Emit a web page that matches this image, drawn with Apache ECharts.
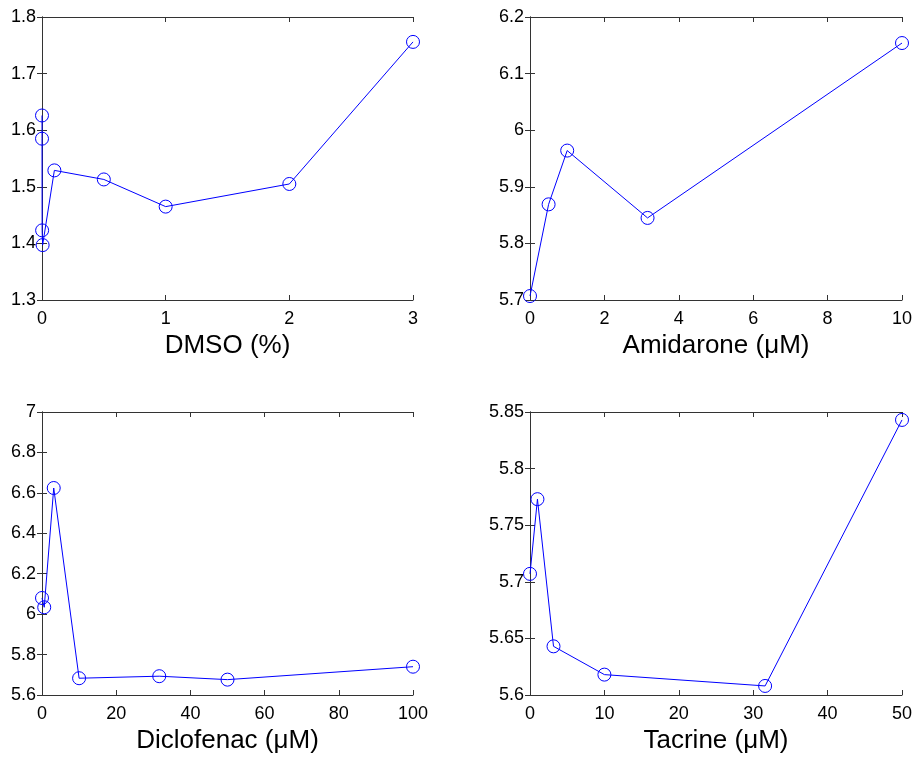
<!DOCTYPE html>
<html><head><meta charset="utf-8">
<script src="https://cdn.jsdelivr.net/npm/echarts@6/dist/echarts.min.js"></script>
<style>html,body{margin:0;padding:0;background:#fff}#c{width:916px;height:758px}</style>
</head><body><div id="c"></div>
<script>
// DMSO (%)
var dmsoX = [0, 0, 0.001, 0.005, 0.1, 0.5, 1, 2, 3];
var dmsoY = [1.626, 1.585, 1.423, 1.397, 1.529, 1.513, 1.465, 1.505, 1.756];
// Amidarone (uM)
var amiX = [0, 0.5, 1, 3.16, 10];
var amiY = [5.707, 5.869, 5.964, 5.845, 6.154];
// Diclofenac (uM)
var dicX = [0, 0.6, 3.16, 10, 31.6, 50, 100];
var dicY = [6.08, 6.034, 6.624, 5.683, 5.693, 5.676, 5.740];
// Tacrine (uM)
var tacX = [0, 1, 3.16, 10, 31.6, 50];
var tacY = [5.707, 5.773, 5.643, 5.618, 5.608, 5.843];

var panels = [
  {name: 'DMSO (%)', x: dmsoX, y: dmsoY, xmin: 0, xmax: 3, xint: 1, ymin: 1.3, ymax: 1.8, yint: 0.1},
  {name: 'Amidarone (\u03bcM)', x: amiX, y: amiY, xmin: 0, xmax: 10, xint: 2, ymin: 5.7, ymax: 6.2, yint: 0.1},
  {name: 'Diclofenac (\u03bcM)', x: dicX, y: dicY, xmin: 0, xmax: 100, xint: 20, ymin: 5.6, ymax: 7, yint: 0.2},
  {name: 'Tacrine (\u03bcM)', x: tacX, y: tacY, xmin: 0, xmax: 50, xint: 10, ymin: 5.6, ymax: 5.85, yint: 0.05}
];
var grids = [
  {left: 42, top: 17, width: 371, height: 283},
  {left: 530, top: 17, width: 372, height: 283},
  {left: 42, top: 412, width: 371, height: 283},
  {left: 530, top: 412, width: 372, height: 283}
];
var FONT = 'Liberation Sans, Arial, sans-serif';
var axisLine = {show: true, lineStyle: {color: '#333333', width: 1}};
var tick = {show: true, inside: true, length: 5, lineStyle: {color: '#333333', width: 1}};
var xAxes = [], yAxes = [], series = [];
panels.forEach(function (p, i) {
  xAxes.push({type: 'value', gridIndex: i, position: 'bottom', min: p.xmin, max: p.xmax, interval: p.xint,
    name: p.name, nameLocation: 'middle', nameGap: 33,
    nameTextStyle: {fontFamily: FONT, fontSize: 26, color: '#000'},
    axisLine: axisLine, axisTick: tick, splitLine: {show: false},
    axisLabel: {fontFamily: FONT, fontSize: 18, color: '#000', margin: 10}});
  xAxes.push({type: 'value', gridIndex: i, position: 'top', min: p.xmin, max: p.xmax, interval: p.xint,
    axisLine: axisLine, axisTick: tick, splitLine: {show: false}, axisLabel: {show: false}});
  yAxes.push({type: 'value', gridIndex: i, position: 'left', min: p.ymin, max: p.ymax, interval: p.yint,
    axisLine: axisLine, axisTick: tick, splitLine: {show: false},
    axisLabel: {fontFamily: FONT, fontSize: 18, color: '#000', margin: 6, padding: [3, 0, 0, 0]}});
  yAxes.push({type: 'value', gridIndex: i, position: 'right', min: p.ymin, max: p.ymax, interval: p.yint,
    axisLine: axisLine, axisTick: tick, splitLine: {show: false}, axisLabel: {show: false}});
  series.push({type: 'line', xAxisIndex: 2 * i, yAxisIndex: 2 * i, clip: false,
    data: p.x.map(function (v, k) { return [v, p.y[k]]; }),
    symbol: 'circle', symbolSize: 13, showAllSymbol: true,
    lineStyle: {color: '#0000ff', width: 1},
    itemStyle: {color: 'rgba(0,0,0,0)', borderColor: '#0000ff', borderWidth: 1},
    emphasis: {disabled: true}, animation: false});
});
var chart = echarts.init(document.getElementById('c'), null, {renderer: 'canvas'});
chart.setOption({backgroundColor: '#fff', animation: false, grid: grids, xAxis: xAxes, yAxis: yAxes, series: series});
</script></body></html>
